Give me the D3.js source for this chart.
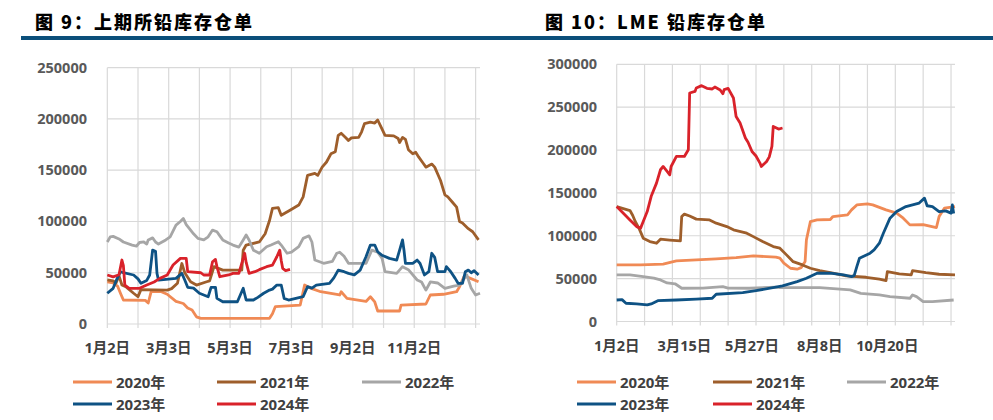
<!DOCTYPE html>
<html>
<head>
<meta charset="utf-8">
<script src="https://cdn.jsdelivr.net/npm/d3@7"></script>
<style>
  body { margin: 0; background: #fff; }
  svg { display: block; }
  .title { font-family: "Noto Sans CJK SC", sans-serif; font-weight: 900; font-size: 18px; letter-spacing: 2px; fill: #000; }
  .tick-label { font-family: "Open Sans", "Noto Sans CJK SC", sans-serif; font-weight: 700; font-size: 14.5px; fill: #595959; }
  .legend-text { font-family: "Open Sans", "Noto Sans CJK SC", sans-serif; font-weight: 700; font-size: 15px; fill: #404040; }
</style>
</head>
<body>
<svg width="993" height="420"></svg>
<script>
// series names and colours
const years = ["2020年", "2021年", "2022年", "2023年", "2024年"];
const colors = ["#F08A55", "#9E5E2B", "#A6A6A6", "#0E5284", "#D9222A"];

// x = trading-day index within the year, y = tonnes
// 上期所 (SHFE)
const shfe2020 = [[0,41000],[4,40000],[7,37000],[9,30000],[11,23400],[26,23000],[28,20500],[30,31500],[37,31500],[41,29000],[47,22000],[52,20000],[55,15600],[58,13600],[61,7000],[64,5500],[111,5500],[113,10000],[115,17000],[132,18500],[135,38000],[139,35000],[146,31500],[159,28300],[160,31500],[164,25000],[177,22000],[180,26600],[183,21500],[185,12700],[200,12700],[201,18500],[218,19500],[221,28300],[230,29000],[239,31500],[241,36400],[244,46000],[246,46000],[254,41200]];
const shfe2021 = [[0,43000],[4,42000],[6,40000],[8,47000],[10,38000],[13,36000],[18,30000],[21,26600],[23,33500],[41,33000],[44,34500],[48,39700],[51,59000],[53,50000],[57,41200],[61,38000],[68,41200],[70,42000],[73,56000],[79,52600],[92,52600],[93,72000],[95,77000],[104,80000],[108,88000],[111,101000],[113,112800],[117,113500],[119,106000],[122,108500],[125,111000],[131,116000],[134,124000],[137,145000],[142,147000],[144,145000],[147,153000],[150,158000],[153,166000],[156,168000],[158,184000],[160,186000],[163,182000],[165,179000],[167,181500],[172,182000],[174,187500],[176,195500],[180,197000],[183,196000],[185,199000],[188,190000],[190,184000],[196,183500],[199,181000],[200,177000],[202,182000],[204,180000],[206,170000],[209,166000],[211,167500],[213,163000],[216,157000],[218,153000],[222,156000],[224,153000],[228,140000],[231,126000],[233,124000],[236,119000],[239,114000],[241,100000],[243,98500],[247,93000],[250,90000],[254,82000]];
const shfe2022 = [[0,80000],[2,85000],[4,85500],[8,83000],[11,80000],[17,77000],[20,76000],[22,79500],[25,80000],[27,78000],[28,82000],[31,84000],[33,80000],[35,78000],[40,82000],[43,85000],[47,96500],[50,100000],[52,103000],[54,97000],[57,91600],[59,88000],[62,83500],[66,82000],[69,85000],[72,91600],[75,90000],[77,86000],[79,82000],[83,79000],[86,77000],[90,75000],[93,82000],[95,86800],[97,82000],[100,72000],[104,69000],[109,75400],[112,77000],[117,80200],[119,77000],[123,69000],[126,70000],[131,75400],[134,83500],[138,86000],[140,80000],[142,62400],[148,59200],[154,61000],[157,69000],[159,70000],[162,66000],[165,59200],[177,59200],[181,72000],[185,70000],[188,64000],[190,51000],[198,49400],[202,55900],[206,53000],[212,42900],[215,41000],[218,33100],[221,41000],[226,40000],[231,34800],[237,37000],[241,38000],[246,47800],[249,34800],[252,28300],[255,30000]];
const shfe2023 = [[0,30000],[4,34800],[6,42000],[9,51000],[11,50000],[18,47800],[21,44000],[23,39700],[27,42500],[29,47800],[31,72000],[33,71000],[34,49400],[35,42900],[47,44500],[51,49400],[53,42900],[55,35800],[59,35000],[63,30000],[69,26600],[71,35800],[74,35800],[75,25000],[79,21700],[89,21700],[91,28300],[93,34800],[95,23400],[100,23400],[103,26000],[107,30000],[111,33100],[113,34000],[116,38000],[119,38000],[121,25000],[124,23400],[134,26600],[137,36400],[140,35000],[143,38000],[152,39700],[155,45000],[158,52600],[162,51000],[165,49400],[169,48000],[173,52600],[177,65600],[180,77000],[183,77000],[185,70500],[188,67000],[193,64000],[198,62400],[200,72000],[202,82000],[203,72000],[204,59200],[209,59200],[212,62400],[214,59000],[217,47800],[220,51000],[222,69000],[224,65000],[226,51000],[231,51000],[232,55900],[235,51000],[238,44500],[240,39700],[243,39700],[245,51000],[247,52600],[249,50000],[251,52000],[254,47800]];
const shfe2024 = [[0,47800],[4,46000],[8,48000],[10,62400],[11,57000],[12,38000],[15,34800],[22,34800],[27,38000],[32,41000],[36,44500],[41,47800],[45,57500],[50,64000],[54,64000],[55,51000],[64,50000],[66,47800],[70,47800],[72,60700],[74,63000],[75,56000],[77,46100],[83,47800],[86,49400],[90,49400],[92,59200],[94,69000],[95,60000],[97,49400],[101,51000],[104,53000],[109,55900],[113,57500],[116,65600],[118,72000],[119,62000],[120,54300],[122,52000],[125,53300]];

// LME
const lme2020 = [[0,66000],[18,66000],[35,67000],[45,70700],[60,71800],[75,73000],[90,74500],[103,76500],[120,75000],[123,73800],[126,68000],[131,62100],[136,61000],[139,62800],[142,70000],[143,95200],[146,116600],[151,118500],[161,119000],[163,122400],[174,124400],[177,130200],[181,136000],[189,137200],[193,136000],[203,130200],[211,126400],[216,120500],[221,112700],[231,113000],[241,109600],[243,122400],[247,132200],[255,134100]];
const lme2021 = [[0,134000],[10,129400],[12,124000],[14,116600],[17,108000],[20,97200],[25,93200],[30,91300],[33,96000],[40,95000],[48,94000],[49,122400],[51,125200],[55,123000],[60,119400],[70,118500],[75,114700],[83,110700],[88,106900],[98,103000],[103,99000],[110,93200],[118,87400],[123,85500],[128,77700],[133,69800],[140,66000],[146,62100],[153,59300],[163,56300],[173,53100],[188,51600],[198,49300],[203,47700],[204,58200],[213,55500],[222,54300],[223,59300],[233,57000],[243,55100],[255,54300]];
const lme2022 = [[0,54300],[10,54300],[20,52300],[28,50500],[33,48500],[38,45000],[44,44000],[49,38800],[65,39000],[80,40700],[84,39000],[100,38800],[120,40000],[123,39500],[153,39500],[176,36800],[184,32900],[198,31000],[206,29000],[221,27100],[223,31000],[226,29000],[231,23100],[238,23100],[254,25100]];
const lme2023 = [[0,25100],[4,25500],[7,21300],[15,20500],[23,19300],[26,20500],[31,24300],[45,25100],[60,26000],[72,27100],[75,31800],[95,33600],[105,36000],[125,41500],[136,46500],[143,50500],[151,56300],[161,56300],[171,54300],[177,52300],[179,53500],[181,64000],[183,73800],[191,79700],[194,83500],[198,91300],[201,103000],[206,120500],[211,128200],[218,134100],[228,138100],[232,143900],[234,135000],[238,134100],[243,128200],[248,129000],[252,126400],[253,136000],[254,126000]];
const lme2024 = [[0,134100],[5,126400],[10,118500],[15,110700],[18,108900],[20,116600],[23,128200],[26,146000],[30,161400],[33,177000],[35,180800],[38,175000],[40,171100],[41,180800],[45,192500],[51,192500],[54,200300],[55,266500],[59,268400],[60,272300],[64,275100],[68,272000],[72,271200],[74,273500],[78,270000],[80,265700],[81,270500],[84,271900],[88,260700],[90,239200],[93,231500],[97,214000],[99,209000],[102,198300],[105,193000],[108,184800],[109,180800],[113,186700],[115,192000],[117,204200],[118,227500],[122,224500],[125,225700]];

// axis labels
const shfeTicks = [0, 42, 84, 126, 168, 210];
const shfeTickLabels = ["1月2日", "3月3日", "5月3日", "7月3日", "9月2日", "11月2日"];
const lmeTicks = [0, 51, 102, 153, 204];
const lmeTickLabels = ["1月2日", "3月15日", "5月27日", "8月8日", "10月20日"];
const gridStep = 21;
const dayCount = 255;

const svg = d3.select("svg");
svg.append("rect").attr("width", 993).attr("height", 420).attr("fill", "#fff");

// bande bleue sous les titres
svg.append("rect").attr("x", 21).attr("y", 36).attr("width", 972).attr("height", 4).attr("fill", "#0B4F7A");

function drawChart(opt) {
  const g = svg.append("g");

  g.append("text").attr("class", "title")
    .attr("x", opt.titleX).attr("y", 29)
    .text(opt.title);

  const x = d3.scaleLinear().domain([0, dayCount]).range([opt.left, opt.right]);
  const y = d3.scaleLinear().domain([0, opt.yMax]).range([opt.bottom, opt.top]);

  // grille horizontale
  const yTicks = d3.range(0, opt.yMax + 1, 50000);
  g.selectAll(".hgrid").data(yTicks).join("line")
    .attr("x1", opt.left).attr("x2", opt.right)
    .attr("y1", d => y(d)).attr("y2", d => y(d))
    .attr("stroke", "#D9D9D9").attr("stroke-width", 1.2);

  // grille verticale
  const xGrid = d3.range(0, dayCount, gridStep);
  g.selectAll(".vgrid").data(xGrid).join("line")
    .attr("x1", d => x(d)).attr("x2", d => x(d))
    .attr("y1", opt.top).attr("y2", opt.bottom + 4)
    .attr("stroke", "#D9D9D9").attr("stroke-width", 1.2);

  g.selectAll(".ylab").data(yTicks).join("text")
    .attr("class", "tick-label")
    .attr("x", opt.yLabelX).attr("y", d => y(d) + 5)
    .attr("text-anchor", "end")
    .text(d => d);

  g.selectAll(".xlab").data(opt.ticks).join("text")
    .attr("class", "tick-label")
    .attr("x", d => x(d)).attr("y", opt.bottom + 29)
    .attr("text-anchor", "middle")
    .style("fill", "#404040")
    .text((d, i) => opt.tickLabels[i]);

  const line = d3.line().x(d => x(d[0])).y(d => y(d[1]));

  g.selectAll(".serie").data(opt.series).join("path")
    .attr("d", d => line(d))
    .attr("fill", "none")
    .attr("stroke", (d, i) => colors[i])
    .attr("stroke-width", 2.8)
    .attr("stroke-linejoin", "round");

  // légende
  const items = g.selectAll(".legend").data(years).join("g")
    .attr("transform", (d, i) => "translate(" + opt.legendX[i % 3] + "," + (i < 3 ? 382 : 404) + ")");
  items.append("line")
    .attr("x1", 0).attr("x2", 39).attr("y1", 0).attr("y2", 0)
    .attr("stroke", (d, i) => colors[i]).attr("stroke-width", 3);
  items.append("text").attr("class", "legend-text")
    .attr("x", 43).attr("y", 5.5)
    .text(d => d);
}

drawChart({
  title: "图 9：上期所铅库存仓单", titleX: 35,
  left: 107.3, right: 480, top: 67.7, bottom: 324, yMax: 250000, yLabelX: 87,
  ticks: shfeTicks, tickLabels: shfeTickLabels,
  series: [shfe2020, shfe2021, shfe2022, shfe2023, shfe2024],
  legendX: [73, 217, 362]
});

drawChart({
  title: "图 10：LME 铅库存仓单", titleX: 545,
  left: 616.7, right: 955, top: 64.3, bottom: 321.5, yMax: 300000, yLabelX: 597,
  ticks: lmeTicks, tickLabels: lmeTickLabels,
  series: [lme2020, lme2021, lme2022, lme2023, lme2024],
  legendX: [577, 713, 847]
});
</script>
</body>
</html>
